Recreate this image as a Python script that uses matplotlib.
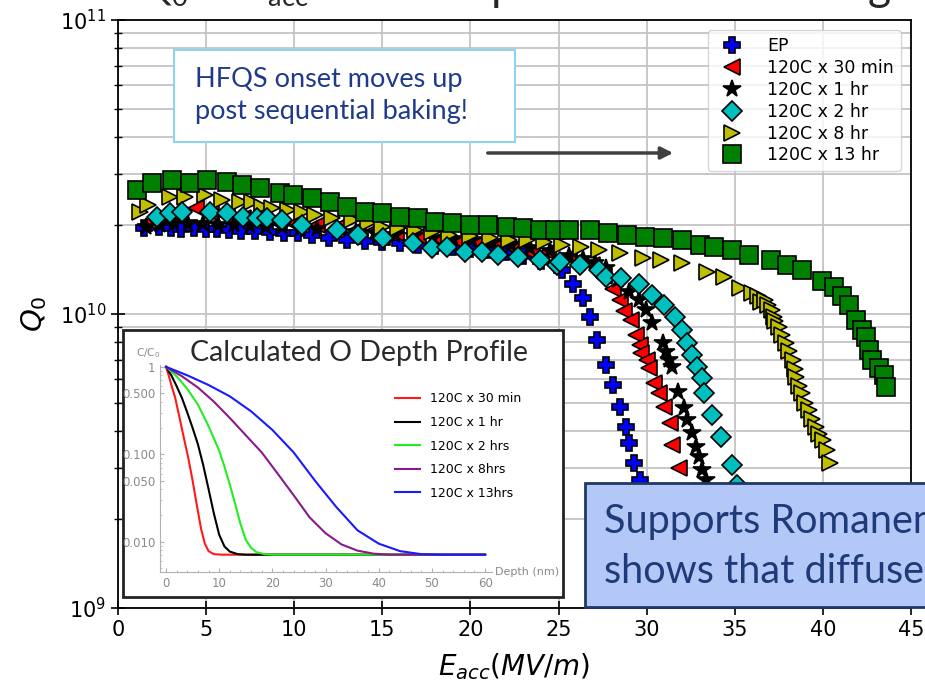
import numpy as np
import matplotlib
matplotlib.use('Agg')
import matplotlib.pyplot as plt
from matplotlib.patches import Rectangle, FancyArrowPatch
from matplotlib.ticker import NullFormatter

# Q0 vs Eacc data (Eacc in MV/m, Q0 in units of 1e10)
ep_e = [1.5, 2.3, 3.0, 3.6, 4.3, 5.0, 5.6, 6.3, 7.0, 7.8, 8.6, 9.4, 10.2, 11.0, 12.0, 13.0, 14.0,
        15.0, 16.0, 17.0, 18.0, 19.0, 20.0, 21.0, 22.0, 23.0, 24.0, 25.2, 25.8, 26.4, 26.8, 27.2,
        27.7, 28.1, 28.5, 28.8, 29.0, 29.3, 29.6, 29.9, 30.2]
ep_q = [1.96, 1.97, 1.96, 1.95, 1.96, 1.95, 1.94, 1.93, 1.92, 1.92, 1.90, 1.89, 1.88, 1.85, 1.82,
        1.79, 1.77, 1.76, 1.74, 1.72, 1.70, 1.69, 1.67, 1.65, 1.63, 1.58, 1.52, 1.41, 1.26, 1.13,
        0.977, 0.817, 0.672, 0.574, 0.483, 0.413, 0.364, 0.311, 0.272, 0.24, 0.21]

m30_e = [1.8, 2.6, 3.4, 4.4, 5.3, 6.2, 7.1, 8.0, 9.0, 10.0, 11.3, 12.5, 13.6, 14.6, 15.8, 17.0,
         18.2, 19.4, 20.5, 21.4, 22.4, 23.5, 24.4, 25.6, 26.9, 27.6, 28.1, 28.5, 28.7, 29.1, 29.4,
         29.6, 29.7, 30.0, 30.16, 30.44, 30.7, 31.0, 31.3, 31.46, 31.86, 32.3]
m30_q = [2.05, 2.1, 2.15, 2.3, 2.2, 2.15, 2.12, 2.1, 2.05, 2.02, 2.0, 1.97, 1.95, 1.93, 1.88,
         1.84, 1.80, 1.76, 1.74, 1.72, 1.68, 1.61, 1.63, 1.56, 1.47, 1.35, 1.22, 1.12, 1.02,
         0.955, 0.85, 0.785, 0.736, 0.698, 0.655, 0.582, 0.538, 0.483, 0.426, 0.358, 0.299, 0.25]

h1_e = [1.6, 2.4, 3.2, 4.0, 4.8, 5.7, 6.6, 7.5, 8.4, 9.3, 10.3, 11.3, 12.4, 13.5, 14.6, 15.7,
        16.8, 17.9, 19.0, 20.1, 21.2, 22.3, 23.4, 24.5, 25.6, 26.4, 27.04, 27.72, 28.4, 29.02,
        29.59, 29.99, 30.33, 30.9, 31.12, 31.29, 31.41, 31.75, 32.14, 32.31, 32.6, 32.82, 32.99,
        33.16, 33.39, 33.7]
h1_q = [1.98, 2.0, 2.02, 2.03, 2.02, 2.0, 2.0, 1.99, 1.98, 1.97, 1.95, 1.94, 1.92, 1.9, 1.88,
        1.86, 1.84, 1.82, 1.8, 1.78, 1.75, 1.72, 1.68, 1.64, 1.58, 1.54, 1.49, 1.43, 1.31, 1.19,
        1.12, 1.03, 0.93, 0.796, 0.743, 0.698, 0.66, 0.543, 0.479, 0.436, 0.394, 0.353, 0.327,
        0.295, 0.272, 0.24]

h2_e = [2.21, 2.95, 3.63, 5.22, 6.18, 7.09, 7.88, 8.45, 9.3, 10.43, 12.41, 13.6, 15.02, 16.72,
        17.8, 18.65, 19.67, 20.63, 21.54, 22.68, 23.92, 24.89, 25.06, 26.19, 27.32, 27.72, 28.57,
        29.59, 30.33, 31.0, 31.58, 32.03, 32.31, 32.6, 32.88, 33.16, 33.28, 33.73, 34.24, 34.86,
        35.15]
h2_q = [2.14, 2.21, 2.22, 2.22, 2.21, 2.14, 2.12, 2.12, 2.09, 2.01, 1.93, 1.86, 1.82, 1.74, 1.68,
        1.69, 1.63, 1.63, 1.59, 1.56, 1.53, 1.47, 1.50, 1.47, 1.41, 1.34, 1.33, 1.26, 1.16, 1.07,
        0.98, 0.883, 0.797, 0.726, 0.66, 0.606, 0.538, 0.453, 0.382, 0.306, 0.262]

h8_e = [1.25, 1.7, 2.95, 3.8, 4.93, 5.9, 6.92, 7.6, 8.16, 8.73, 9.64, 10.43, 11.17, 12.13, 13.27,
        14.17, 14.97, 15.87, 16.84, 17.8, 18.8, 19.95, 21.1, 22.2, 23.2, 24.2, 25.2, 26.3, 27.3,
        28.5, 29.8, 30.8, 32.0, 33.4, 34.4, 35.3, 36.0, 36.3, 36.5, 36.7, 36.9, 37.1, 37.2, 37.3,
        37.5, 37.7, 37.9, 38.1, 38.3, 38.4, 38.5, 38.65, 38.8, 39.0, 39.2, 39.4, 39.6, 39.8, 40.0,
        40.25, 40.4]
h8_q = [2.22, 2.35, 2.50, 2.50, 2.54, 2.44, 2.41, 2.41, 2.31, 2.30, 2.26, 2.22, 2.17, 2.12, 2.09,
        2.04, 1.98, 1.96, 1.93, 1.90, 1.86, 1.84, 1.82, 1.79, 1.78, 1.76, 1.72, 1.69, 1.65, 1.61,
        1.55, 1.53, 1.49, 1.39, 1.34, 1.23, 1.18, 1.15, 1.10, 1.12, 1.07, 1.03, 0.98, 0.95, 0.90,
        0.85, 0.797, 0.75, 0.698, 0.65, 0.61, 0.57, 0.54, 0.50, 0.47, 0.44, 0.413, 0.39, 0.373,
        0.345, 0.311]

h13_e = [1.08, 1.93, 3.06, 4.08, 5.05, 6.18, 7.03, 8.05, 9.18, 9.92, 11.0, 12.02, 12.98, 14.0,
         14.97, 15.99, 17.0, 17.97, 18.93, 19.95, 20.98, 22.05, 22.96, 23.92, 24.77, 25.62, 26.76,
         27.78, 28.91, 29.88, 30.9, 32.03, 33.0, 33.84, 34.86, 35.83, 37.07, 37.98, 38.83, 39.97,
         40.65, 41.1, 41.5, 41.9, 42.2, 42.46, 42.63, 42.8, 43.2, 43.48, 43.6]
h13_q = [2.64, 2.79, 2.86, 2.79, 2.86, 2.81, 2.75, 2.68, 2.58, 2.54, 2.48, 2.41, 2.31, 2.22, 2.21,
         2.14, 2.12, 2.06, 2.04, 2.01, 2.01, 1.98, 1.96, 1.93, 1.93, 1.93, 1.93, 1.89, 1.86, 1.83,
         1.82, 1.79, 1.72, 1.69, 1.65, 1.59, 1.53, 1.47, 1.41, 1.29, 1.24, 1.15, 1.07, 0.955,
         0.883, 0.836, 0.755, 0.698, 0.655, 0.62, 0.565]

# oxygen depth profile inset (depth in nm, C/C0)
red_d = [0, 0.5, 1, 1.7, 2.5, 3.3, 4.2, 5.0, 5.8, 6.6, 7.3, 8.0, 9.0, 10.5, 60]
red_c = [1, 0.8, 0.62, 0.45, 0.27, 0.16, 0.09, 0.05, 0.026, 0.014, 0.0095, 0.0078, 0.0072,
         0.0071, 0.0071]
blk_d = [0, 1, 2, 3, 4, 5, 6, 7, 8, 9, 10, 11, 12, 13.5, 15, 60]
blk_c = [1, 0.8, 0.6, 0.44, 0.3, 0.2, 0.13, 0.075, 0.04, 0.021, 0.012, 0.0088, 0.0077, 0.0072,
         0.0071, 0.0071]
grn_d = [0, 2, 4, 6, 8, 10, 11, 12, 13, 14, 15, 16, 17, 18.5, 20, 60]
grn_c = [1, 0.78, 0.56, 0.37, 0.21, 0.11, 0.072, 0.045, 0.027, 0.016, 0.0105, 0.0085, 0.0076,
         0.0072, 0.0071, 0.0071]
pur_d = [0, 3, 6, 9, 12, 15, 18, 21, 24, 27, 30, 33, 36, 39, 42, 60]
pur_c = [1, 0.78, 0.58, 0.4, 0.26, 0.165, 0.105, 0.06, 0.034, 0.019, 0.0125, 0.0093, 0.0079,
         0.0073, 0.0071, 0.0071]
blu_d = [0, 4, 8, 12, 16, 20, 24, 28, 32, 36, 40, 44, 48, 52, 60]
blu_c = [1, 0.8, 0.62, 0.46, 0.31, 0.19, 0.105, 0.05, 0.025, 0.0135, 0.0095, 0.0078, 0.0072,
         0.0071, 0.0071]

W, H = 925., 688.
fig = plt.figure(figsize=(9.25, 6.88), dpi=100)

# main axes
ax = fig.add_axes([118/W, 1-608/H, 793/W, 588/H])
mk = dict(linestyle='none', markeredgecolor='k', markeredgewidth=1.2)
ax.plot(ep_e, np.array(ep_q)*1e10, 'P', color='b', ms=11, label='EP', zorder=2, **mk)
ax.plot(m30_e, np.array(m30_q)*1e10, '<', color='r', ms=12, label='120C x 30 min', zorder=2.1, **mk)
ax.plot(h1_e, np.array(h1_q)*1e10, '*', color='k', ms=13, label='120C x 1 hr', zorder=2.2, **mk)
ax.plot(h2_e, np.array(h2_q)*1e10, 'D', color='c', ms=10.5, label='120C x 2 hr', zorder=2.4, **mk)
ax.plot(h8_e, np.array(h8_q)*1e10, '>', color='y', ms=12, label='120C x 8 hr', zorder=2.3, **mk)
ax.plot(h13_e, np.array(h13_q)*1e10, 's', color='g', ms=13, label='120C x 13 hr', zorder=2.5, **mk)
ax.set_yscale('log')
ax.set_xlim(0, 45)
ax.set_ylim(1e9, 1e11)
ax.set_xticks(np.arange(0, 46, 5))
ax.yaxis.set_minor_formatter(NullFormatter())
ax.grid(True, which='both', color='#c4c4c4', lw=1.3)
ax.set_axisbelow(True)
ax.tick_params(which='major', direction='inout', length=10, width=1.2, labelsize=15)
ax.tick_params(which='minor', direction='inout', length=6, width=1.0)
for s in ax.spines.values():
    s.set_linewidth(1.3)
ax.set_xlabel(r'$E_{acc}(MV/m)$', fontsize=20, labelpad=8)
ax.set_ylabel(r'$Q_0$', fontsize=21, labelpad=8)
ax.legend(loc='upper right', fontsize=12.5, numpoints=1, framealpha=0.8,
          labelspacing=0.22, handletextpad=1.0, borderaxespad=0.6)

# slide title, cut by the top edge of the picture
fig.text(140/W, 1.0, r'$\mathregular{Q_0}$ vs $\mathregular{E_{acc}}$',
         family='Lato', fontsize=28, color='#262626', va='baseline')
fig.text(330/W, 1.0, 'Post Sequential',
         family='Lato', fontsize=32, color='#262626', va='baseline')
fig.text(892/W, 1.0, 'Baking',
         family='Lato', fontsize=32, color='#262626', va='baseline', ha='right')

# HFQS text box with arrow
fig.add_artist(Rectangle((174/W, 1-142/H), 341/W, 92/H, transform=fig.transFigure,
                         facecolor='white', edgecolor='#8fd3ee', lw=1.5, zorder=1.5))
fig.text(195/W, 1-80/H, 'HFQS onset moves up', family='Lato', fontsize=19.5,
         color='#1f3a8a', va='center', zorder=1.6)
fig.text(195/W, 1-112/H, 'post sequential baking!', family='Lato', fontsize=19.5,
         color='#1f3a8a', va='center', zorder=1.6)
fig.add_artist(FancyArrowPatch((485/W, 1-153/H), (676/W, 1-153/H), transform=fig.transFigure,
                               arrowstyle='-|>', mutation_scale=18, color='#404040', lw=2.5,
                               zorder=1.6))

# inset: calculated O depth profile
fig.add_artist(Rectangle((123/W, 1-597/H), 440/W, 267/H, transform=fig.transFigure,
                         facecolor='white', edgecolor='#222222', lw=2, zorder=1.5))
axin = fig.add_axes([160/W, 1-572/H, 332/W, 207/H], zorder=2)
axin.patch.set_alpha(0)
axin.plot(red_d, red_c, color='#ff1a1a', lw=1.5, label='120C x 30 min')
axin.plot(blk_d, blk_c, color='black', lw=1.5, label='120C x 1 hr')
axin.plot(grn_d, grn_c, color='#22ee22', lw=1.5, label='120C x 2 hrs')
axin.plot(pur_d, pur_c, color='#8b1a8b', lw=1.5, label='120C x 8hrs')
axin.plot(blu_d, blu_c, color='#1a1aff', lw=1.5, label='120C x 13hrs')
axin.set_yscale('log')
axin.set_xlim(-1.13, 61.3)
axin.set_ylim(0.0045, 1.05)
axin.set_xticks(np.arange(0, 61, 10))
axin.set_xticks(np.arange(0, 61, 2), minor=True)
axin.set_yticks([0.01, 0.05, 0.1, 0.5, 1])
axin.set_yticklabels(['0.010', '0.050', '0.100', '0.500', '1'])
axin.yaxis.set_minor_formatter(NullFormatter())
for side in ['top', 'right']:
    axin.spines[side].set_visible(False)
for side in ['left', 'bottom']:
    axin.spines[side].set_color('#b0b0b0')
axin.tick_params(which='both', colors='#b0b0b0', labelcolor='#8a8a8a', labelsize=8.5,
                 direction='in', length=3)
axin.tick_params(which='minor', length=1.5)
axin.legend(loc='upper left', bbox_to_anchor=(384/W, 1-381/H), bbox_transform=fig.transFigure,
            frameon=False, fontsize=9, handlelength=2.0, labelspacing=0.85)
fig.text(359/W, 1-353/H, 'Calculated O Depth Profile', family='Lato', fontsize=20.5,
         color='#2a2a2a', ha='center', va='center', zorder=3)
fig.text(148/W, 1-353/H, r'C/C$_0$', fontsize=7.5, color='#8a8a8a', ha='center', va='center',
         zorder=3)
fig.text(495/W, 1-572/H, 'Depth (nm)', fontsize=8, color='#8a8a8a', ha='left', va='center',
         zorder=3)

# "Supports ..." box cut by the slide edge
fig.add_artist(Rectangle((585/W, 1-607/H), 360/W, 124/H, transform=fig.transFigure,
                         facecolor='#b4c8f8', edgecolor='#1f3864', lw=2, zorder=5))
fig.text(604/W, 1-522/H, "Supports Romanenko's model", family='Lato', fontsize=28.5,
         color='#1f3a78', va='center', zorder=6)
fig.text(604/W, 1-572/H, 'shows that diffused oxygen', family='Lato', fontsize=28.5,
         color='#1f3a78', va='center', zorder=6)

fig.savefig('out.png', dpi=100)
